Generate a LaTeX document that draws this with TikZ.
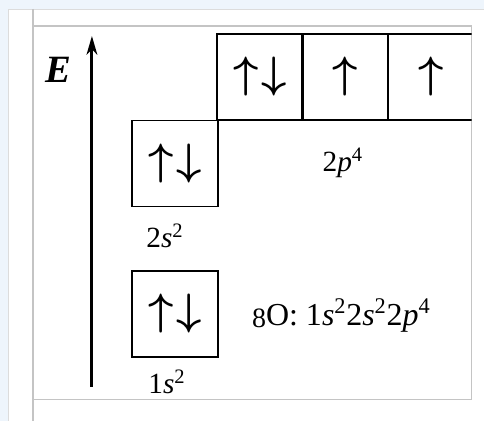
\documentclass[tikz,border=0pt]{standalone}
\usepackage{graphicx}
\usepackage{fontspec}
\setmainfont{Liberation Serif}
\usetikzlibrary{arrows.meta}
\definecolor{pagebg}{HTML}{EEF5FC}
\definecolor{framegrey}{HTML}{C4C4C4}
\newcommand{\spinup}{\scalebox{3.3}{\boldmath$\uparrow$}}
\newcommand{\spinpair}{\scalebox{3.3}{\boldmath$\uparrow\mkern1mu\downarrow$}}

\begin{document}
\begin{tikzpicture}[x=0.75pt, y=-0.75pt,
  orb/.style={draw, line width=1.2pt, minimum width=64.5pt, minimum height=64.5pt, inner sep=0pt},
  lbl/.style={inner sep=0pt, font=\fontsize{22}{24}\selectfont},
  frame/.style={draw=framegrey, line width=1.1pt}]
  % page and frame
  \fill[pagebg] (0,0) rectangle (484,421);
  \fill[white] (8,9) rectangle (484,421);
  \draw[framegrey!60, line width=0.6pt] (8,421) -- (8,9) -- (484,9);
  \draw[frame] (33,9) -- (33,421);
  \draw[frame] (33,26) -- (472,26) -- (472,400) -- (33,400);
  % energy axis
  \coordinate (axbot) at (92,387);
  \coordinate (axtop) at (92,36);
  \draw[line width=2.2pt, -{Stealth[length=14pt, width=8pt, inset=4pt]}] (axbot) -- (axtop);
  \node[lbl, font=\fontsize{29}{31}\selectfont\bfseries\itshape] (elabel) at (58,70) {E};
  % orbitals
  \begin{scope}
    \clip (0,0) rectangle (472,421);
    \node[orb] (p1) at (260,77) {\spinpair};
    \node[orb] (p2) at (345.5,77) {\spinup};
    \node[orb] (p3) at (431,77) {\spinup};
  \end{scope}
  \node[orb] (s2) at (175,163.5) {\spinpair};
  \node[orb] (s1) at (175,314) {\spinpair};
  % labels
  \node[lbl] (l2p) at (343,163) {2\textit{p}\textsuperscript{4}};
  \node[lbl] (l2s) at (165,236) {2\textit{s}\textsuperscript{2}};
  \node[lbl] (l1s) at (167,382) {1\textit{s}\textsuperscript{2}};
  \node[lbl, anchor=west, font=\fontsize{24}{26}\selectfont] (conf) at (252,316)
    {\raisebox{-0.15ex}{\fontsize{21}{22}\selectfont 8}O: 1\textit{s}\textsuperscript{2}2\textit{s}\textsuperscript{2}2\textit{p}\textsuperscript{4}};
\end{tikzpicture}
\end{document}
